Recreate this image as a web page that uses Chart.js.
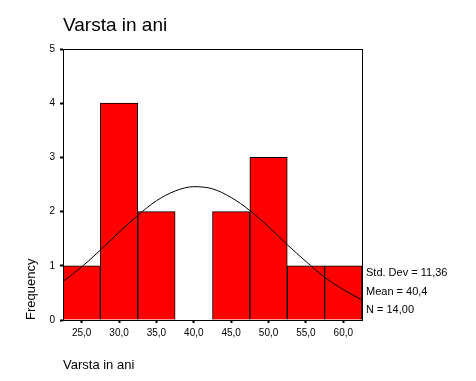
<!DOCTYPE html>
<html><head><meta charset="utf-8">
<script src="https://cdn.jsdelivr.net/npm/chart.js@4/dist/chart.umd.min.js"></script>
<style>html,body{margin:0;padding:0;background:#fff;}#wrap{width:476px;height:381px;}</style>
</head><body><div id="wrap"><canvas id="c" width="476" height="381"></canvas></div>
<script>
const chartTitle = 'Varsta in ani';
const xAxisTitle = 'Varsta in ani';
const yAxisTitle = 'Frequency';
const binCenters = [25, 30, 35, 40, 45, 50, 55, 60];
const frequencies = [1, 4, 2, 0, 2, 3, 1, 1];
const curveX = [22.5, 25, 27.5, 30, 32.5, 35, 37.5, 40, 42.5, 45, 47.5, 50, 52.5, 55, 57.5, 60, 62.5];
const curveY = [0.71, 0.98, 1.29, 1.62, 1.93, 2.20, 2.38, 2.46, 2.42, 2.26, 2.02, 1.72, 1.39, 1.08, 0.79, 0.56, 0.37];
const xTickValues = [25, 30, 35, 40, 45, 50, 55, 60];
const yTickValues = [0, 1, 2, 3, 4, 5];
const statsLines = ['Std. Dev = 11,36', 'Mean = 40,4', 'N = 14,00'];

const FONT = "'Liberation Sans', Arial, sans-serif";

const framePlugin = {
  id: 'frame',
  afterDatasetsDraw(chart) {
    const a = chart.chartArea, ctx = chart.ctx;
    ctx.save();
    ctx.strokeStyle = '#000';
    ctx.lineWidth = 1;
    ctx.strokeRect(Math.round(a.left) + 0.5, Math.round(a.top) + 0.5,
      Math.round(a.right - a.left), Math.round(a.bottom - a.top));
    ctx.restore();
  },
  afterDraw(chart) {
    const ctx = chart.ctx, a = chart.chartArea;
    ctx.save();
    ctx.fillStyle = '#000';
    ctx.font = '11px ' + FONT;
    ctx.textBaseline = 'middle';
    ctx.textAlign = 'left';
    const ys = [273, 292, 310];
    statsLines.forEach((t, i) => ctx.fillText(t, a.right + 4, ys[i]));
    ctx.restore();
  }
};

new Chart(document.getElementById('c'), {
  type: 'bar',
  data: {
    datasets: [
      {
        type: 'line',
        data: curveX.map((x, i) => ({x: x, y: curveY[i]})),
        borderColor: '#000',
        borderWidth: 1,
        pointRadius: 0,
        fill: false,
        cubicInterpolationMode: 'monotone',
        order: 0
      },
      {
        type: 'bar',
        data: binCenters.map((x, i) => ({x: x, y: frequencies[i]})),
        backgroundColor: '#FF0000',
        borderColor: '#000',
        borderWidth: 1,
        barPercentage: 1,
        categoryPercentage: 1,
        order: 1
      }
    ]
  },
  options: {
    responsive: false,
    animation: false,
    devicePixelRatio: 1,
    layout: {padding: {left: 0, right: 114, top: 0, bottom: 0}},
    plugins: {
      legend: {display: false},
      tooltip: {enabled: false},
      title: {
        display: true,
        text: chartTitle,
        align: 'start',
        fullSize: false,
        color: '#000',
        font: {family: FONT, size: 19, weight: 'normal', lineHeight: 1.2},
        padding: {top: 14, bottom: 12.2}
      }
    },
    scales: {
      x: {
        type: 'linear',
        min: 22.5,
        max: 62.5,
        offset: false,
        afterBuildTicks(scale) { scale.ticks = xTickValues.map(v => ({value: v})); },
        afterFit(scale) { scale.height = 61; },
        ticks: {
          color: '#000',
          font: {family: FONT, size: 10},
          padding: 4,
          maxRotation: 0,
          autoSkip: false,
          callback: v => Number(v).toFixed(1).replace('.', ',')
        },
        grid: {display: true, drawOnChartArea: false, drawTicks: true, tickLength: 3, tickWidth: 2, tickColor: '#000', color: '#000', offset: false},
        border: {display: true, color: '#000', width: 1},
        title: {
          display: true, text: xAxisTitle, align: 'start', color: '#000',
          font: {family: FONT, size: 13, lineHeight: 1.2},
          padding: {top: 0, bottom: 8}
        }
      },
      y: {
        min: 0,
        max: 5,
        afterBuildTicks(scale) { scale.ticks = yTickValues.map(v => ({value: v})); },
        afterFit(scale) { scale.width = 63; },
        ticks: {
          color: '#000',
          font: {family: FONT, size: 10},
          padding: 5,
          callback: v => String(v)
        },
        grid: {display: true, drawOnChartArea: false, drawTicks: true, tickLength: 3, tickWidth: 2, tickColor: '#000', color: '#000'},
        border: {display: true, color: '#000', width: 1},
        title: {
          display: true, text: yAxisTitle, align: 'start', color: '#000',
          font: {family: FONT, size: 13, lineHeight: 1.2},
          padding: {top: 24, bottom: 0}
        }
      }
    }
  },
  plugins: [framePlugin]
});
</script>
</body></html>
